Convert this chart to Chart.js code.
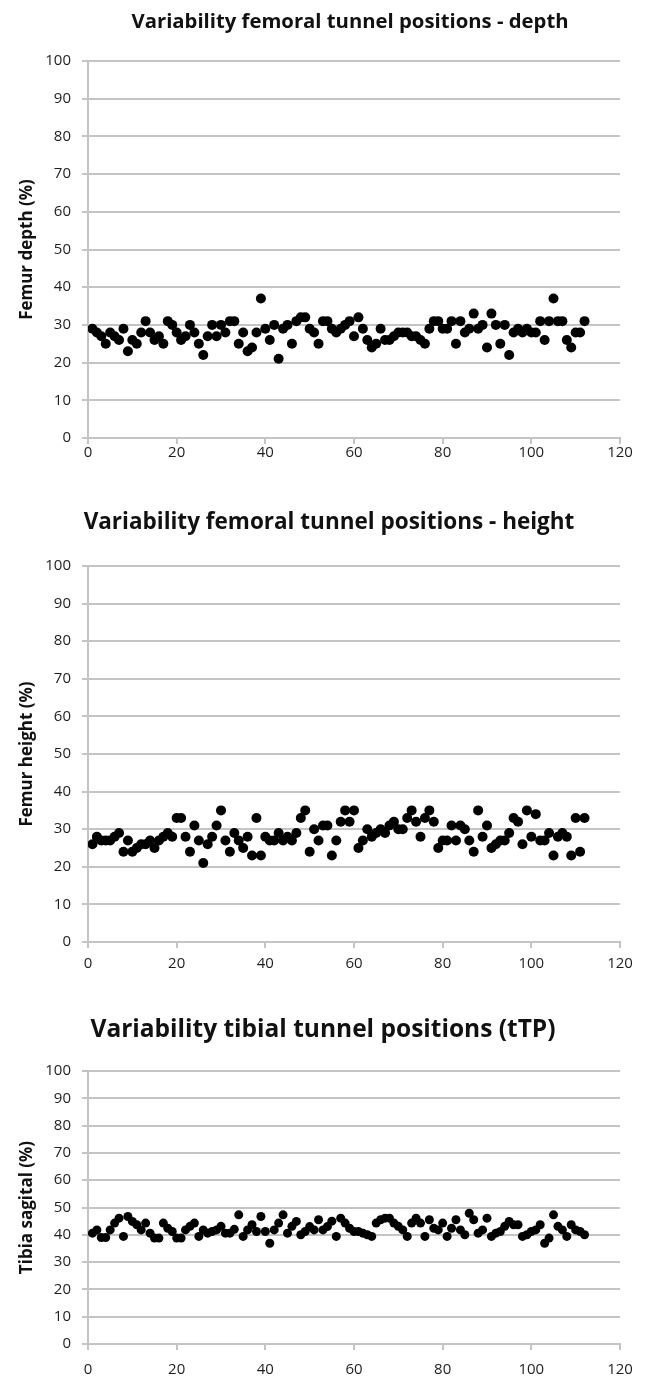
<!DOCTYPE html>
<html>
<head>
<meta charset="utf-8">
<title>Variability of tunnel positions</title>
<script src="https://cdn.jsdelivr.net/npm/chart.js@4.4.1/dist/chart.umd.min.js"></script>
<style>
  body { margin: 0; background: #fff; }
  canvas { position: absolute; left: 0; }
</style>
</head>
<body>
<canvas id="depthChart" width="646" height="470" style="top:0px"></canvas>
<canvas id="heightChart" width="646" height="500" style="top:480px"></canvas>
<canvas id="tibiaChart" width="646" height="388" style="top:990px"></canvas>
<script>
// case number of each patient (x axis)
const caseNo = [
  1, 2, 3, 4, 5, 6, 7, 8, 9, 10, 11, 12, 13, 14, 15, 16, 17, 18, 19, 20,
  21, 22, 23, 24, 25, 26, 27, 28, 29, 30, 31, 32, 33, 34, 35, 36, 37, 38, 39, 40,
  41, 42, 43, 44, 45, 46, 47, 48, 49, 50, 51, 52, 53, 54, 55, 56, 57, 58, 59, 60,
  61, 62, 63, 64, 65, 66, 67, 68, 69, 70, 71, 72, 73, 74, 75, 76, 77, 78, 79, 80,
  81, 82, 83, 84, 85, 86, 87, 88, 89, 90, 91, 92, 93, 94, 95, 96, 97, 98, 99, 100,
  101, 102, 103, 104, 105, 106, 107, 108, 109, 110, 111, 112
];

// femur depth (%)
const femurDepth = [
  29, 28, 27, 25, 28, 27, 26, 29, 23, 26, 25, 28, 31, 28, 26, 27, 25, 31, 30, 28,
  26, 27, 30, 28, 25, 22, 27, 30, 27, 30, 28, 31, 31, 25, 28, 23, 24, 28, 37, 29,
  26, 30, 21, 29, 30, 25, 31, 32, 32, 29, 28, 25, 31, 31, 29, 28, 29, 30, 31, 27,
  32, 29, 26, 24, 25, 29, 26, 26, 27, 28, 28, 28, 27, 27, 26, 25, 29, 31, 31, 29,
  29, 31, 25, 31, 28, 29, 33, 29, 30, 24, 33, 30, 25, 30, 22, 28, 29, 28, 29, 28,
  28, 31, 26, 31, 37, 31, 31, 26, 24, 28, 28, 31
];

// femur height (%)
const femurHeight = [
  26, 28, 27, 27, 27, 28, 29, 24, 27, 24, 25, 26, 26, 27, 25, 27, 28, 29, 28, 33,
  33, 28, 24, 31, 27, 21, 26, 28, 31, 35, 27, 24, 29, 27, 25, 28, 23, 33, 23, 28,
  27, 27, 29, 27, 28, 27, 29, 33, 35, 24, 30, 27, 31, 31, 23, 27, 32, 35, 32, 35,
  25, 27, 30, 28, 29, 30, 29, 31, 32, 30, 30, 33, 35, 32, 28, 33, 35, 32, 25, 27,
  27, 31, 27, 31, 30, 27, 24, 35, 28, 31, 25, 26, 27, 27, 29, 33, 32, 26, 35, 28,
  34, 27, 27, 29, 23, 28, 29, 28, 23, 33, 24, 33
];

// tibia sagital (%)
const tibiaSagital = [
  40.6, 41.8, 39, 39, 41.8, 44.3, 46.1, 39.4, 46.7, 44.9, 43.7, 41.8, 44.3, 40.6, 38.8, 38.8, 44.3, 42.4, 41.2, 38.8,
  38.8, 41.8, 43.1, 44.3, 39.4, 41.8, 40.6, 41.2, 41.8, 43.1, 40.6, 40.6, 42, 47.3, 39.4, 41.8, 43.7, 41.2, 46.7, 41.2,
  36.9, 41.8, 44.3, 47.3, 40.6, 43.1, 44.9, 40, 41.2, 43, 41.8, 45.5, 41.8, 43, 45, 39.4, 46.1, 44.3, 42.4, 41.2,
  41.2, 40.6, 40, 39.4, 44.3, 45.5, 46.1, 46.1, 44.3, 43.1, 41.8, 39.4, 44.3, 46.1, 44.3, 39.4, 45.5, 42.4, 41.8, 44.3,
  39.4, 42.4, 45.5, 41.8, 40, 47.9, 45.5, 40.6, 41.8, 46.1, 39.4, 40.6, 41.2, 43.1, 44.9, 43.7, 43.7, 39.4, 40, 41.2,
  41.8, 43.7, 36.9, 38.8, 47.3, 43.1, 41.8, 39.4, 43.7, 41.8, 41.2, 40
];

const gridColor = '#c4c4c4';
const textColor = '#1e1e1e';
const fontFamily = "'Open Sans', sans-serif";

// draws the heading of each panel at its own place and size
const headingPlugin = {
  id: 'heading',
  afterDraw(chart, args, opts) {
    const ctx = chart.ctx;
    ctx.save();
    ctx.fillStyle = '#111';
    ctx.font = `bold ${opts.size}px ${fontFamily}`;
    ctx.textAlign = 'center';
    ctx.textBaseline = 'middle';
    ctx.fillText(opts.text, opts.x, opts.y);
    ctx.restore();
  }
};

function tunnelChart(id, heading, yTitle, values, box) {
  const points = values.map((v, i) => ({ x: caseNo[i], y: v }));

  return new Chart(document.getElementById(id), {
    type: 'scatter',
    data: {
      datasets: [{
        data: points,
        backgroundColor: '#000',
        borderColor: '#000',
        borderWidth: 0,
        pointRadius: box.radius,
        pointHoverRadius: box.radius
      }]
    },
    options: {
      responsive: false,
      animation: false,
      devicePixelRatio: 1,
      layout: { padding: { left: 0, right: 26, top: box.top, bottom: 0 } },
      plugins: {
        legend: { display: false },
        tooltip: { enabled: false },
        heading: { text: heading, x: box.headX, y: box.headY, size: box.headSize }
      },
      scales: {
        x: {
          type: 'linear',
          min: 0,
          max: 120,
          ticks: { stepSize: 20, color: textColor, padding: box.xPad, maxRotation: 0, font: { family: fontFamily, size: 15 } },
          grid: { drawOnChartArea: false, tickLength: 6, color: gridColor, lineWidth: 2 },
          border: { color: gridColor, width: 2 },
          afterFit: s => { s.height = box.xHeight; }
        },
        y: {
          min: 0,
          max: 100,
          ticks: { stepSize: 10, color: textColor, padding: 11, font: { family: fontFamily, size: 15 } },
          grid: { tickLength: 6, color: gridColor, lineWidth: 2 },
          border: { color: gridColor, width: 2 },
          title: {
            display: true,
            text: yTitle,
            color: '#111',
            padding: { top: 17, bottom: 0 },
            font: { family: fontFamily, size: box.ySize, weight: 'bold', lineHeight: 1.2 }
          },
          afterFit: s => { s.width = 88; }
        }
      }
    },
    plugins: [headingPlugin]
  });
}

tunnelChart('depthChart', 'Variability femoral tunnel positions - depth', 'Femur depth (%)', femurDepth,
  { top: 61, xHeight: 32, xPad: 0, radius: 5, headX: 350, headY: 22, headSize: 20.3, ySize: 17 });

tunnelChart('heightChart', 'Variability femoral tunnel positions - height', 'Femur height (%)', femurHeight,
  { top: 86, xHeight: 38, xPad: 7, radius: 5, headX: 329, headY: 43, headSize: 22.5, ySize: 17 });

tunnelChart('tibiaChart', 'Variability tibial tunnel positions (tTP)', 'Tibia sagital (%)', tibiaSagital,
  { top: 81, xHeight: 34, xPad: 11, radius: 4.5, headX: 323, headY: 40, headSize: 24.5, ySize: 17 });
</script>
</body>
</html>
